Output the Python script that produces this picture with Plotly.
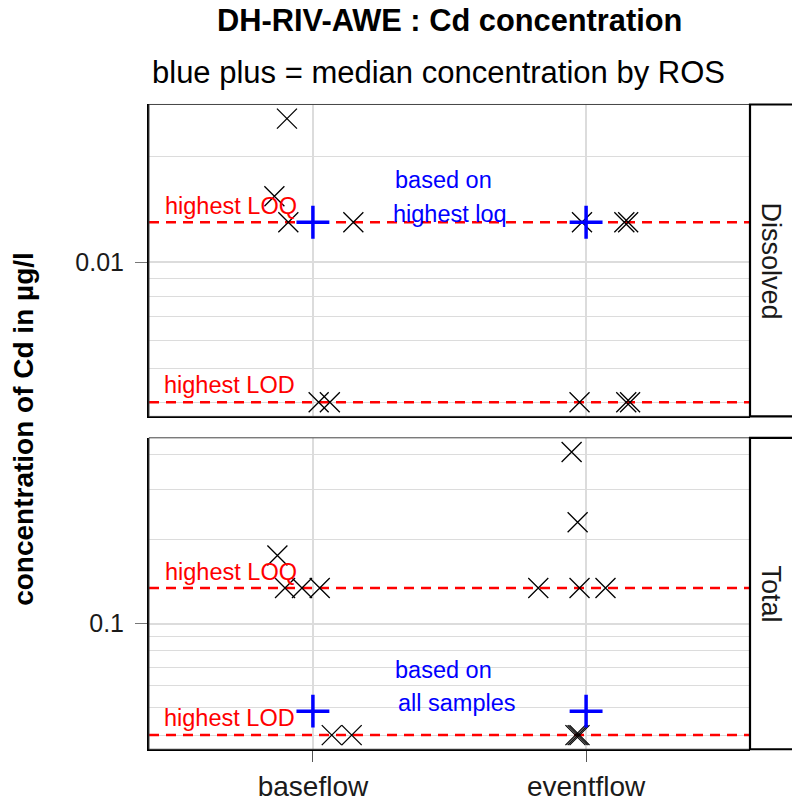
import math
import plotly.graph_objects as go

# ---------------- data ----------------
categories = ["baseflow", "eventflow"]
panels = ["Dissolved", "Total"]

# Dissolved panel
diss_cat = ["baseflow"] * 6 + ["eventflow"] * 6
diss_jitter = [-0.095, -0.141, -0.090, 0.148, 0.021, 0.062,
               -0.015, 0.140, 0.154, -0.024, 0.147, 0.161]
diss_value = [0.0256, 0.0154, 0.013, 0.013, 0.004, 0.004,
              0.013, 0.013, 0.013, 0.004, 0.004, 0.004]
diss_median = [0.013, 0.013]
diss_loq = 0.013
diss_lod = 0.004

# Total panel
tot_cat = ["baseflow"] * 6 + ["eventflow"] * 8
tot_jitter = [-0.130, -0.102, -0.040, 0.025, 0.069, 0.142,
              -0.053, -0.031, -0.175, -0.024, 0.071, -0.039, -0.031, -0.024]
tot_value = [0.175, 0.134, 0.134, 0.134, 0.04, 0.04,
             0.41, 0.23, 0.134, 0.134, 0.134, 0.04, 0.04, 0.04]
tot_median = [0.0487, 0.0487]
tot_loq = 0.134
tot_lod = 0.04

# tick labels / grid values
diss_major = [0.01]
diss_major_text = ["0.01"]
diss_minor = [0.004, 0.005, 0.006, 0.007, 0.008, 0.009, 0.02, 0.03]
tot_major = [0.1]
tot_major_text = ["0.1"]
tot_minor = [0.04, 0.05, 0.06, 0.07, 0.08, 0.09, 0.2, 0.3, 0.4]

# ---------------- style ----------------
W, H = 792, 802
FONT = "Liberation Sans, Arial, sans-serif"
GRID = "#DCDCDC"
XR = [-0.6, 1.6]
XDOM = [149 / W, 750 / W]
YDOM_TOP = [1 - 418.5 / H, 1 - 105 / H]
YDOM_BOT = [1 - 753 / H, 1 - 440 / H]

cat_index = {c: i for i, c in enumerate(categories)}


def log_range(vals, lod):
    lo = math.log10(min(min(vals), lod))
    hi = math.log10(max(vals))
    pad = 0.05 * (hi - lo)
    return [lo - pad, hi + pad]


fig = go.Figure()


def add_panel(cats, jit, vals, med, loq, lod, xa, ya):
    for level in (loq, lod):
        fig.add_trace(go.Scatter(
            x=XR, y=[level, level], mode="lines",
            line=dict(color="#FF0000", width=2.5, dash="10px,7px"),
            xaxis=xa, yaxis=ya, hoverinfo="skip", showlegend=False))
    xs = [cat_index[c] + j for c, j in zip(cats, jit)]
    fig.add_trace(go.Scatter(
        x=xs, y=vals, mode="markers",
        marker=dict(symbol="x-thin-open", size=20, color="black",
                    line=dict(color="black", width=1.3)),
        xaxis=xa, yaxis=ya, showlegend=False))
    fig.add_trace(go.Scatter(
        x=[cat_index[c] for c in categories], y=med, mode="markers",
        marker=dict(symbol="cross-thin-open", size=23.5, color="#0000FF",
                    line=dict(color="#0000FF", width=3.5)),
        xaxis=xa, yaxis=ya, showlegend=False))


add_panel(diss_cat, diss_jitter, diss_value, diss_median, diss_loq, diss_lod, "x", "y")
add_panel(tot_cat, tot_jitter, tot_value, tot_median, tot_loq, tot_lod, "x2", "y2")

xcommon = dict(range=XR, domain=XDOM, tickmode="array", tickvals=[0, 1],
               showgrid=True, gridcolor=GRID, gridwidth=1.6, zeroline=False,
               showline=True, linecolor="black", linewidth=2)


def ycommon(dom, rng, major, major_text, minor, anchor):
    return dict(type="log", domain=dom, range=rng, anchor=anchor,
                tickmode="array", tickvals=major, ticktext=major_text,
                ticks="outside", ticklen=12, tickcolor="#777777", tickwidth=1,
                ticklabelstandoff=6,
                tickfont=dict(family=FONT, size=25, color="#1a1a1a"),
                showgrid=True, gridcolor=GRID, gridwidth=1.6, zeroline=False,
                showline=True, linecolor="black", linewidth=2,
                minor=dict(tickmode="array", tickvals=minor, showgrid=True,
                           gridcolor=GRID, gridwidth=1.3, ticks=""))


fig.update_layout(
    width=W, height=H, margin=dict(l=0, r=0, t=0, b=0),
    paper_bgcolor="white", plot_bgcolor="white", showlegend=False,
    font=dict(family=FONT, color="#1a1a1a"),
    xaxis=dict(**xcommon, anchor="y", showticklabels=False, ticks=""),
    xaxis2=dict(**xcommon, anchor="y2", ticktext=categories, ticks="outside",
                ticklen=11, tickcolor="#555555",
                tickfont=dict(family=FONT, size=28, color="#1a1a1a")),
    yaxis=ycommon(YDOM_TOP, log_range(diss_value, diss_lod), diss_major,
                  diss_major_text, diss_minor, "x"),
    yaxis2=ycommon(YDOM_BOT, log_range(tot_value, tot_lod), tot_major,
                   tot_major_text, tot_minor, "x2"),
)

shapes = []
for ya in ("y", "y2"):
    shapes.append(dict(type="rect", xref="x domain" if ya == "y" else "x2 domain",
                       yref=ya + " domain", x0=0, x1=1, y0=0, y1=1,
                       line=dict(color="#444444", width=1), layer="above"))
    shapes.append(dict(type="rect", xref="paper", yref=ya + " domain",
                       x0=750 / W, x1=1.03, y0=0, y1=1,
                       line=dict(color="black", width=2.2), fillcolor="white",
                       layer="above"))
fig.update_layout(shapes=shapes)

ann = []
# titles
ann.append(dict(text="<b>DH-RIV-AWE : Cd concentration</b>", xref="paper", yref="paper",
                x=449 / W, y=1 - 21 / H, xanchor="center", yanchor="middle",
                showarrow=False, font=dict(family=FONT, size=30.8, color="black")))
ann.append(dict(text="blue plus = median concentration by ROS", xref="paper", yref="paper",
                x=150 / W, y=1 - 73 / H, xanchor="left", yanchor="middle",
                showarrow=False, font=dict(family=FONT, size=31, color="black")))
# y axis title
ann.append(dict(text="<b>concentration of Cd in µg/l</b>", xref="paper", yref="paper",
                x=24 / W, y=1 - 431 / H, xanchor="center", yanchor="middle",
                textangle=-90, showarrow=False,
                font=dict(family=FONT, size=28, color="black")))
# strips
for name, ya in zip(panels, ("y", "y2")):
    ann.append(dict(text=name, xref="paper", yref=ya + " domain", x=771 / W, y=0.5,
                    xanchor="center", yanchor="middle", textangle=90, showarrow=False,
                    font=dict(family=FONT, size=27, color="#1a1a1a")))

# reference line labels
for xa, ya, loq, lod in (("x", "y", diss_loq, diss_lod), ("x2", "y2", tot_loq, tot_lod)):
    ann.append(dict(text="highest LOQ", xref=xa, yref=ya, x=-0.548, y=math.log10(loq),
                    xanchor="left", yanchor="middle", yshift=16, showarrow=False,
                    font=dict(family=FONT, size=23.5, color="#FF0000")))
    ann.append(dict(text="highest LOD", xref=xa, yref=ya, x=-0.552, y=math.log10(lod),
                    xanchor="left", yanchor="middle", yshift=17, showarrow=False,
                    font=dict(family=FONT, size=23.5, color="#FF0000")))

blue = dict(family=FONT, size=23.5, color="#0000FF")
ann.append(dict(text="based on", xref="x", yref="y", x=0.477, y=math.log10(diss_median[0]),
                yshift=42, xanchor="center", yanchor="middle", showarrow=False, font=blue))
ann.append(dict(text="highest loq", xref="x", yref="y", x=0.502, y=math.log10(diss_median[0]),
                yshift=8, xanchor="center", yanchor="middle", showarrow=False, font=blue))
ann.append(dict(text="based on", xref="x2", yref="y2", x=0.477, y=math.log10(tot_median[0]),
                yshift=41, xanchor="center", yanchor="middle", showarrow=False, font=blue))
ann.append(dict(text="all samples", xref="x2", yref="y2", x=0.527, y=math.log10(tot_median[0]),
                yshift=8, xanchor="center", yanchor="middle", showarrow=False, font=blue))

fig.update_layout(annotations=ann)

fig.write_html("out.html")
